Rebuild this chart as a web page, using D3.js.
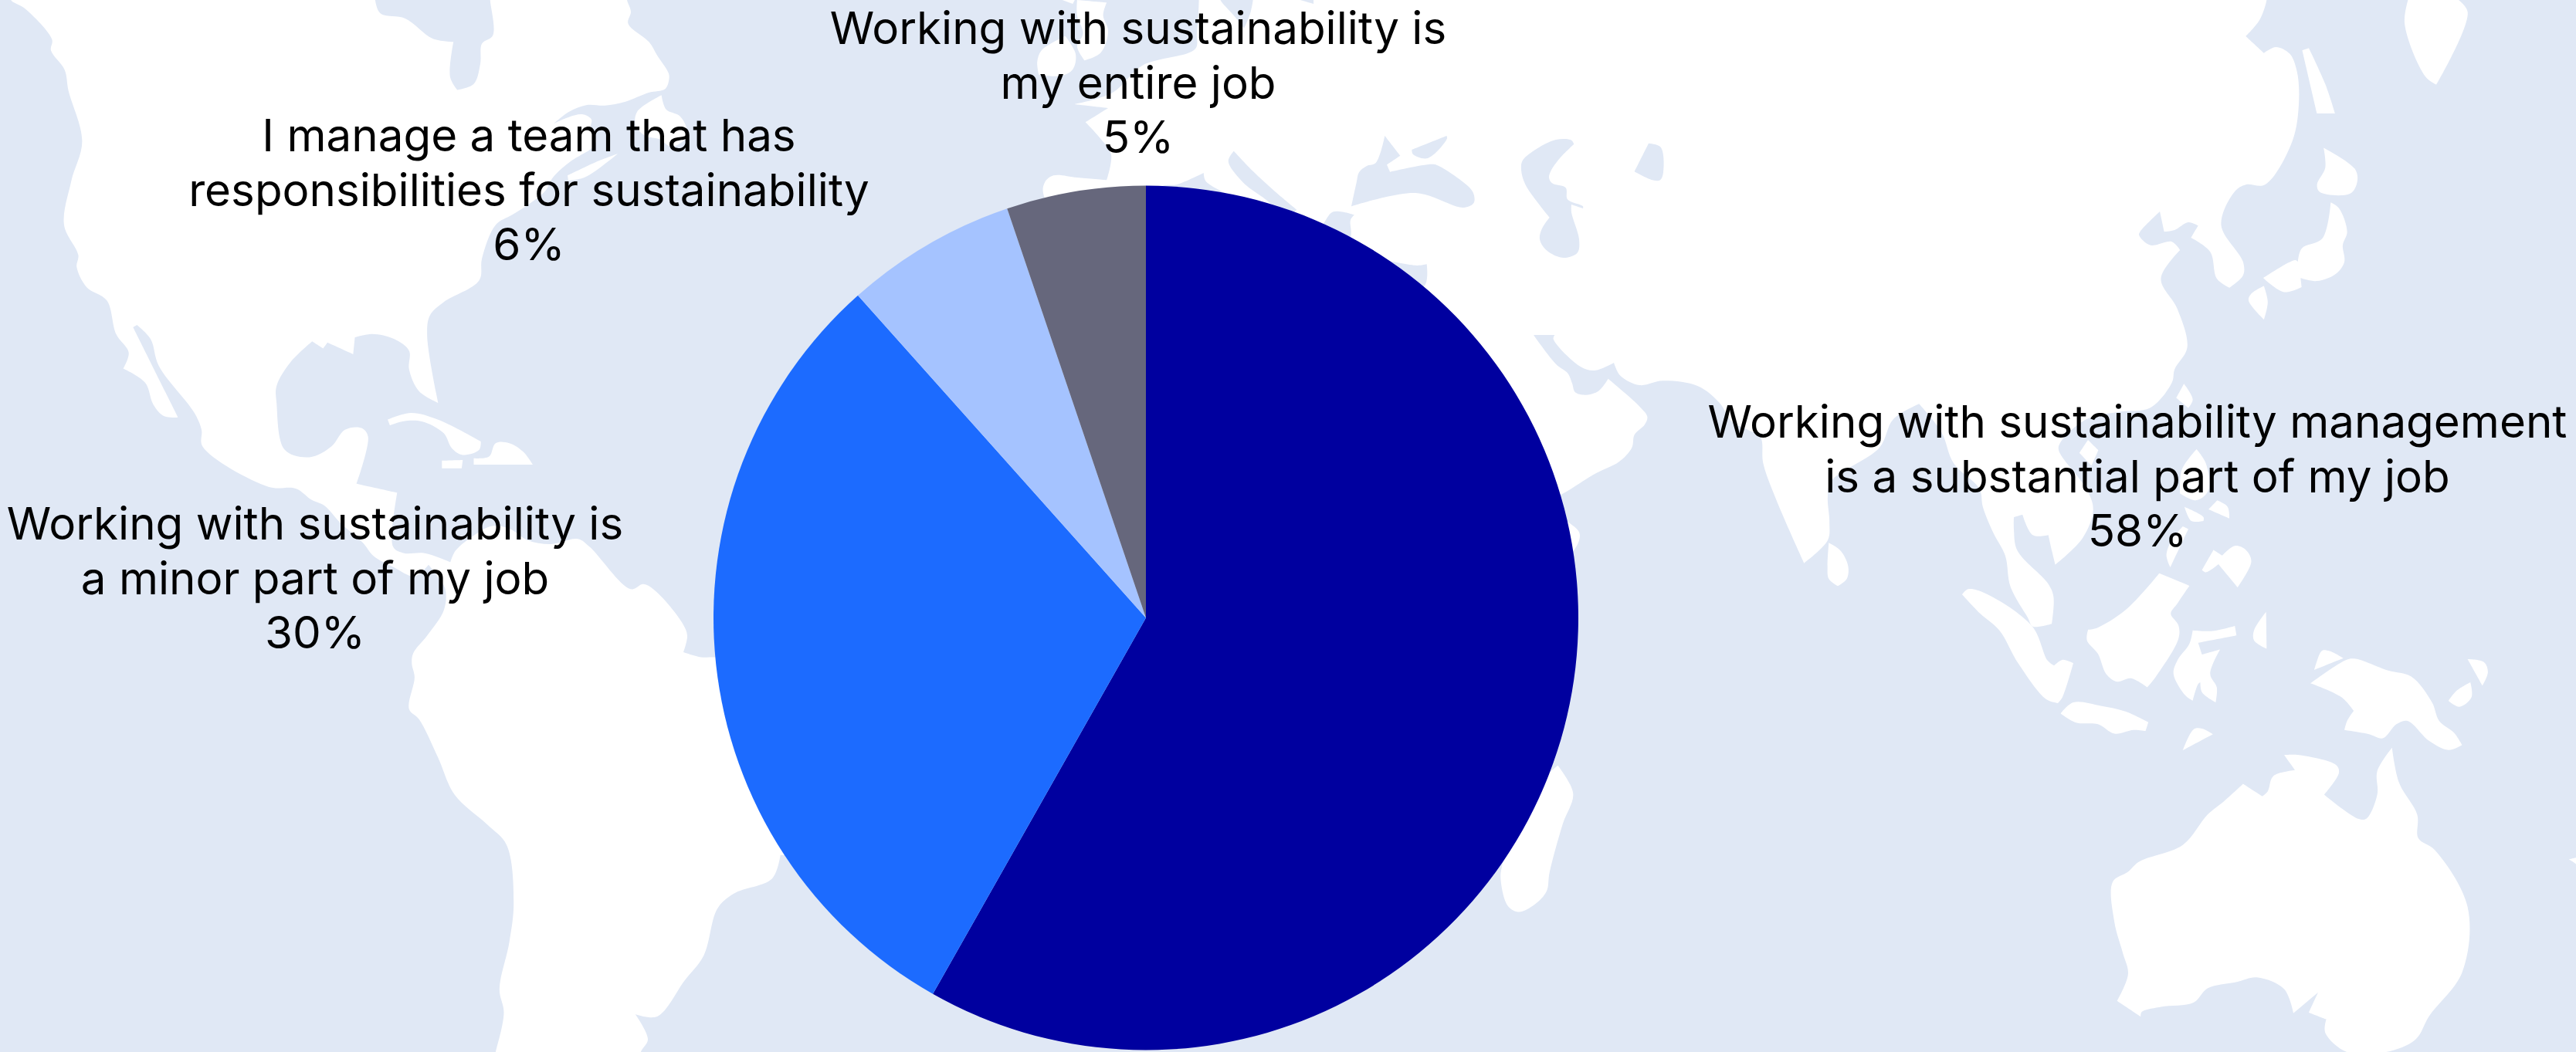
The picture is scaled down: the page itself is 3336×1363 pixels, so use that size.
<!DOCTYPE html>
<html>
<head>
<meta charset="utf-8">
<script src="https://cdn.jsdelivr.net/npm/d3@7"></script>
<style>
  html, body { margin: 0; padding: 0; background: #e0e8f5; overflow: hidden; }
  text { font-family: Inter, "Noto Sans", sans-serif; fill: #000; }
</style>
</head>
<body>
<div id="chart"></div>
<script>
// chart values
var categories = [
    "Working with sustainability management is a substantial part of my job",
    "Working with sustainability is a minor part of my job",
    "I manage a team that has responsibilities for sustainability",
    "Working with sustainability is my entire job"
];
var shares = [58.2, 30.2, 6.4, 5.2];
var labelLines = [
    ["Working with sustainability management", "is a substantial part of my job"],
    ["Working with sustainability is", "a minor part of my job"],
    ["I manage a team that has", "responsibilities for sustainability"],
    ["Working with sustainability is", "my entire job"]
];
var sliceColors = ["#00009f", "#1c6bff", "#a5c3ff", "#66677c"];

// layout
var svgWidth = 3336;
var svgHeight = 1363;
var center = [1484, 800.5];
var radius = 560;
var labelX = [2768, 408, 685, 1474];
var labelY = [567, 699, 196, 57];
var lineStep = 70.5;
var fontSize = 58.3;

// background world map, traced piece by piece from crops of the picture.
// Each crop has its own origin and scale: [originX, originY, scaleX, scaleY]
var crops = {
    a: [0, 0, 1.41, 2.299],
    b: [0, 682, 1.41, 2.302],
    c: [1112, 0, 1.41, 2.299],
    d: [2224, 0, 1.41, 2.299],
    e: [2224, 682, 1.41, 2.302],
    f: [1800, 600, 2.613, 2.055],
    g: [1150, 0, 2.613, 3],
    h: [1700, 150, 3, 3],
    i: [1950, 400, 3, 3],
    j: [640, 100, 3, 3],
    k: [420, 620, 3, 3],
    l: [2300, 500, 2.24, 3]
};

var land = [
    // the Americas
    [["a", 20,-20, 20,0, 45,25, 95,118, 93,150, 118,208, 125,270, 150,420, 130,540, 117,670, 143,760, 140,795, 158,855, 195,895, 212,995, 235,1050, 225,1098, 265,1140, 280,1205, 300,1240, 325,1243, 243,975, 250,968, 275,1010, 290,1090, 355,1230, 368,1280, 370,1330, 490,1450, 540,1455, 570,1490],
     ["k", 0,105, 60,170, 150,250, 190,300, 270,345, 350,380, 405,335, 440,380, 470,430, 465,510, 400,610, 345,680],
     ["b", 752,410, 757,450, 747,545, 765,575, 800,690, 830,800, 890,890, 925,950, 938,1120, 930,1240, 912,1380, 920,1450, 905,1568, 900,1600, 1170,1600, 1170,1568, 1183,1530, 1160,1455, 1200,1462, 1250,1355, 1285,1280, 1310,1140, 1340,1095, 1410,1050, 1425,980, 1600,1000, 1500,400, 1300,390, 1280,390, 1248,375],
     ["k", 1410,610, 1390,560, 1290,440, 1240,410, 1190,430, 1030,265, 985,235, 880,255, 790,240, 720,195, 650,185, 590,215, 510,280, 490,325, 390,290, 310,290, 270,270, 262,220, 283,55, 125,20],
     ["a", 672,1300, 660,1275, 630,1280, 605,1330, 565,1362, 520,1340, 505,1200, 505,1150, 530,1080, 570,1017, 590,1038, 598,1020, 645,1055, 648,1005, 680,995, 720,1010, 747,1045, 747,1100, 765,1165, 800,1200, 780,1000, 785,940, 810,900, 875,835, 880,770, 905,670],
     ["j", 70,535, 140,490, 200,440, 228,390, 300,325, 380,275, 395,250, 375,195, 378,165, 345,145, 290,155, 232,180, 290,135, 360,108, 430,110, 510,95, 600,60, 665,45, 680,0],
     ["a", 1220,215, 1200,165, 1185,125, 1147,70, 1152,35, 1145,0, 1145,-20, 895,-20, 895,0, 900,105, 880,130, 877,190, 865,250, 835,268, 822,230, 828,125, 790,115, 740,55, 695,40, 685,0, 685,-20]],
    // Nova Scotia, Newfoundland
    [["j", 480,298, 395,330, 285,382, 288,402, 350,390, 420,345]],
    [["j", 650,70, 555,135, 550,190, 590,230, 640,240, 690,270, 750,230, 745,190, 720,150, 668,125]],
    // Caribbean
    [["a", 708,1250, 750,1230, 800,1250, 878,1315, 875,1340, 845,1355, 825,1335, 810,1290, 770,1255, 735,1255, 712,1267]],
    [["a", 865,1365, 893,1360, 905,1320, 930,1320, 955,1345, 973,1384, 865,1384]],
    [["a", 807,1372, 845,1370, 843,1395, 807,1395]],
    // Ireland, Britain
    [["g", 520,195, 600,140, 635,210, 625,270, 585,295, 510,290, 505,240]],
    [["g", 640,0, 740,10, 728,60, 745,120, 720,205, 665,235, 640,180, 660,130, 640,60]],
    [["g", 590,0, 625,15, 632,0]],
    // Eurasia and Africa, the south of Africa sits under the pie
    [["g", 530,770, 530,710, 560,682, 640,690, 740,700, 755,600, 720,540, 668,475, 745,420, 630,405, 760,360, 860,255, 1040,190, 1045,130, 1050,60, 1052,0, 1052,-20],
     ["d", 1003,-20, 1003,0, 990,60, 965,108, 998,158, 1020,140, 1045,160, 1058,210, 1062,300, 1050,420, 1000,550, 965,550, 945,570, 920,670, 960,780, 960,820, 935,857, 912,830, 900,750, 865,708, 878,672, 860,662, 835,685, 816,690, 808,630, 772,690, 770,700, 790,730, 830,720, 845,745, 810,830, 840,920, 858,1035, 835,1100, 830,1140, 790,1215],
     ["l", 1000,100, 900,130, 825,220, 820,250, 900,400, 920,480, 890,590, 810,695, 800,640, 790,580, 745,580, 715,500, 690,510, 690,560, 700,640, 790,770, 805,820, 800,925, 745,935, 730,900, 680,780, 665,660, 630,570, 600,470, 590,400, 515,300, 480,180, 415,70, 340,130, 300,240, 160,370, 150,430, 155,530, 150,600, 80,690],
     ["i", 1160,990, 1050,740, 1000,600, 990,500, 940,470, 880,440, 830,365, 745,300, 610,280, 520,297, 445,260, 420,210, 345,240, 290,225, 185,118, 190,102, 108,102, 195,215, 240,250, 258,290, 270,325, 310,335, 360,320, 398,272, 520,380, 550,420, 540,450, 500,490, 490,540, 440,595, 350,640, 215,722, 120,760],
     ["f", 500,100, 600,155, 642,188, 620,235, 500,300, -200,200]],
    // Madagascar, Sri Lanka
    [["f", 568,805, 620,880, 585,960, 540,1090, 530,1140, 490,1175, 437,1195, 400,1180, 375,1110, 380,1070, 450,900]],
    [["i", 1255,910, 1300,940, 1330,1000, 1325,1050, 1290,1078, 1255,1050, 1250,1000]],
    // Kamchatka, Sakhalin and Japan
    [["d", 1263,-10, 1263,0, 1345,0, 1345,-10, 1370,35, 1313,252, 1293,228, 1255,70]],
    [["d", 1068,150, 1080,143, 1110,250, 1128,338, 1095,338]],
    [["d", 1107,440, 1165,505, 1168,545, 1155,577, 1100,572, 1095,550, 1110,500]],
    [["d", 1120,603, 1135,620, 1150,690, 1142,730, 1145,780, 1130,815, 1095,837, 1065,828, 1067,855, 1035,870, 997,828, 1055,775, 1060,780, 1067,740, 1105,710]],
    [["d", 998,852, 1005,900, 998,952, 970,895, 975,875]],
    // Taiwan, Hainan, Philippines
    [["d", 852,1143, 868,1190, 860,1215, 838,1185]],
    [["l", 880,260, 905,210, 935,250, 915,310]],
    [["d", 875,1338, 892,1380, 897,1460, 875,1490, 845,1470, 848,1400]],
    [["l", 1185,470, 1240,510, 1240,525, 1205,525]],
    [["l", 1255,480, 1280,445, 1310,470, 1315,515]],
    [["e", 906,70, 922,87, 945,58, 965,70, 975,105, 950,182, 915,113, 892,137, 885,130]],
    [["e", 850,0, 860,8, 827,122, 820,85, 830,40]],
    // Indonesia, New Guinea and the small islands
    [["e", 447,203, 458,187, 490,200, 575,298, 603,400, 615,415, 630,398, 650,408, 630,510, 622,527, 600,515, 550,410, 515,310, 480,260]],
    [["e", 807,140, 862,177, 840,230, 828,260, 842,295, 842,335, 800,450, 785,480, 755,453, 730,463, 710,440, 695,380, 675,340, 677,308, 693,303, 745,250]],
    [["e", 868,310, 905,312, 945,297, 948,325, 878,347, 885,382, 918,367, 900,440, 912,480, 910,525, 885,495, 882,465, 878,470, 868,520, 855,505, 833,440, 840,400, 862,350]],
    [["e", 1002,255, 1003,365, 980,340, 980,310]],
    [["e", 1105,370, 1118,372, 1143,393, 1090,428, 1100,380]],
    [["e", 1083,468, 1150,397, 1165,395, 1225,430, 1267,448, 1305,525, 1318,580, 1345,615, 1360,652, 1335,667, 1300,640, 1260,580, 1240,590, 1215,632, 1190,620, 1145,607, 1150,580, 1162,550, 1140,510]],
    [["e", 1370,396, 1400,405, 1407,435, 1397,475]],
    [["e", 1375,465, 1377,510, 1355,538, 1335,520, 1350,490]],
    [["e", 627,558, 650,525, 700,535, 745,552, 787,584, 782,610, 760,607, 725,618, 695,590, 655,585]],
    [["e", 850,668, 870,605, 885,603, 905,620]],
    [["e", 1555,993, 1580,984, 1580,1020]],
    // Australia
    [["e", 1035,682, 1062,682, 1130,712, 1135,735, 1108,800, 1170,872, 1185,872, 1205,800, 1205,730, 1232,660, 1245,765, 1278,860, 1280,930, 1310,965, 1370,1135, 1360,1330, 1300,1460, 1275,1530, 1220,1568, 1150,1568, 1110,1510, 1112,1470, 1080,1450, 1097,1390, 1052,1452, 1035,1380, 985,1345, 950,1358, 895,1378, 870,1420, 810,1433, 775,1448, 773,1462, 730,1415, 750,1335, 740,1270, 725,1180, 722,1060, 750,1030, 770,1000, 850,950, 895,860, 925,820, 960,768, 995,805, 1005,790, 1015,745, 1055,727]]
];

var water = [
    // inland seas, drawn over the land
    [["h", 150,352, 170,260, 180,220, 210,195, 245,183, 280,78, 340,155, 288,190, 300,218, 465,188, 490,195, 610,280, 627,310, 625,340, 585,357, 400,300]],
    [["h", 385,132, 520,78, 522,88, 447,165, 390,150]],
    [["h", 945,93, 1005,95, 1015,110, 960,165, 925,215, 918,240, 930,262, 983,280, 990,325, 1050,352, 1050,360, 1005,345, 1005,375, 1035,480, 1030,530, 1000,548, 960,550, 905,520, 882,480, 890,440, 920,395, 880,345, 825,265, 810,210, 815,175, 860,135]],
    [["h", 1305,107, 1352,122, 1362,220, 1350,250, 1320,250, 1250,217]],
    [["h", 80,373, 162,385, 147,405, 148,470, 100,560, 0,500, 45,415]],
    [["h", 300,565, 405,582, 443,577, 435,660, 300,700]],
    [["c", 685,450, 675,480, 700,540, 740,590, 785,640, 800,625, 760,570, 720,510]],
    [["c", 525,570, 560,552, 580,550, 630,515, 634,540, 690,590, 660,620]],
    [["g", 1125,-10, 1125,0, 1170,60, 1205,110, 1225,55, 1235,0, 1235,-10]],
    [["g", 1395,-10, 1395,0, 1440,15, 1440,-10]]
];

// crop coordinates to page coordinates
function toPage(shape) {
    var pts = [];
    shape.forEach(function(run) {
        var c = crops[run[0]];
        for (var n = 1; n < run.length; n += 2) {
            pts.push([c[0] + run[n] / c[2], c[1] + run[n + 1] / c[3]]);
        }
    });
    return pts;
}

// a point where the coast turns hard is repeated, so the curve keeps the corner
function keepCorners(pts) {
    var out = [];
    pts.forEach(function(p, n) {
        var a = pts[(n + pts.length - 1) % pts.length];
        var b = pts[(n + 1) % pts.length];
        var turn = Math.abs(Math.atan2(p[1] - a[1], p[0] - a[0]) - Math.atan2(b[1] - p[1], b[0] - p[0]));
        if (turn > Math.PI) turn = 2 * Math.PI - turn;
        out.push(p);
        if (turn > 1.2) out.push(p);
    });
    return out;
}

var svg = d3.select("#chart")
    .append("svg")
    .attr("width", svgWidth)
    .attr("height", svgHeight)
    .style("display", "block");

svg.append("rect")
    .attr("width", svgWidth)
    .attr("height", svgHeight)
    .attr("fill", "#e0e8f5");

var coast = d3.line().curve(d3.curveCatmullRomClosed.alpha(0.5));

svg.append("g").selectAll("path")
    .data(land)
    .enter()
    .append("path")
    .attr("d", function(d) { return coast(keepCorners(toPage(d))); })
    .attr("fill", "#ffffff");

svg.append("g").selectAll("path")
    .data(water)
    .enter()
    .append("path")
    .attr("d", function(d) { return coast(keepCorners(toPage(d))); })
    .attr("fill", "#e0e8f5");

// the pie
var pie = d3.pie().sort(null)(shares);
var arc = d3.arc().innerRadius(0).outerRadius(radius);

svg.append("g")
    .attr("transform", "translate(" + center[0] + "," + center[1] + ")")
    .selectAll("path")
    .data(pie)
    .enter()
    .append("path")
    .attr("d", arc)
    .attr("fill", function(d, i) { return sliceColors[i]; });

// labels: two lines of text and the rounded share
var labels = svg.append("g").selectAll("text")
    .data(categories)
    .enter()
    .append("text")
    .attr("text-anchor", "middle")
    .attr("font-size", fontSize)
    .attr("x", function(d, i) { return labelX[i]; })
    .attr("y", function(d, i) { return labelY[i]; });

labels.each(function(d, i) {
    var lines = labelLines[i].concat([d3.format(".0f")(shares[i]) + "%"]);
    d3.select(this).selectAll("tspan")
        .data(lines)
        .enter()
        .append("tspan")
        .attr("x", labelX[i])
        .attr("dy", function(t, n) { return n === 0 ? 0 : lineStep; })
        .text(function(t) { return t; });
});
</script>
</body>
</html>
